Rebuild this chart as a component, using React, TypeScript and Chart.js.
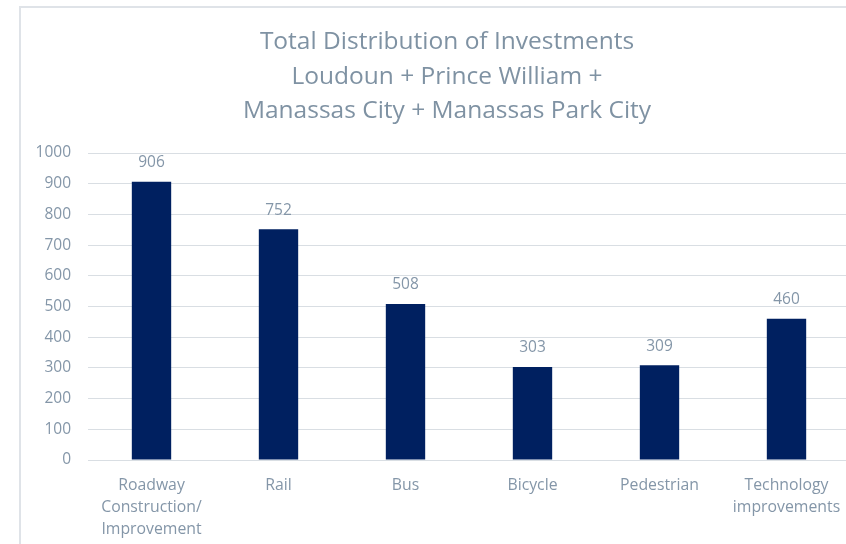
import React, { useEffect, useRef } from "react";
import { Chart, registerables } from "chart.js";

Chart.register(...registerables);

const titleLines = [
  "Total Distribution of Investments",
  "Loudoun + Prince William +",
  "Manassas City + Manassas Park City",
];
const categories: (string | string[])[] = [
  ["Roadway", "Construction/", "Improvement"],
  "Rail",
  "Bus",
  "Bicycle",
  "Pedestrian",
  ["Technology", "improvements"],
];
const values = [906, 752, 508, 303, 309, 460];
const yMin = 0;
const yMax = 1000;
const yStep = 100;

const FONT = "'Open Sans', 'Liberation Sans', sans-serif";
const TEXT = "#8496a8";
const TITLE = "#7f92a3";
const BAR = "#002060";
const GRID = "#d9dee3";

export default function App() {
  const ref = useRef<HTMLCanvasElement>(null);
  useEffect(() => {
    if (!ref.current) return;
    const titlePlugin = {
      id: "titleLines",
      afterDraw(chart: any) {
        const ctx = chart.ctx;
        ctx.save();
        ctx.fillStyle = TITLE;
        ctx.font = `24.5px ${FONT}`;
        ctx.textAlign = "center";
        ctx.textBaseline = "middle";
        const ys = [42, 77, 111];
        titleLines.forEach((t, i) => ctx.fillText(t, 447, ys[i]));
        ctx.restore();
      },
    };
    const labelPlugin = {
      id: "valueLabels",
      afterDatasetsDraw(chart: any) {
        const ctx = chart.ctx;
        const meta = chart.getDatasetMeta(0);
        ctx.save();
        ctx.fillStyle = TEXT;
        ctx.font = `15.5px ${FONT}`;
        ctx.textAlign = "center";
        ctx.textBaseline = "middle";
        meta.data.forEach((bar: any, i: number) => {
          ctx.fillText(String(values[i]), bar.x, bar.y - 19);
        });
        ctx.restore();
      },
    };
    const chart = new Chart(ref.current, {
      type: "bar",
      data: {
        labels: categories,
        datasets: [
          {
            data: values,
            backgroundColor: BAR,
            barPercentage: 0.31,
            categoryPercentage: 1,
          },
        ],
      },
      options: {
        responsive: false,
        animation: false,
        layout: { padding: { top: 153, left: 0, right: 10, bottom: 0 } },
        plugins: {
          legend: { display: false },
          title: { display: false },
          tooltip: { enabled: false },
        },
        scales: {
          x: {
            grid: { display: false },
            border: { display: false },
            ticks: {
              color: TEXT,
              font: { family: FONT, size: 15.8, lineHeight: 1.4 },
              padding: 6,
              maxRotation: 0,
              autoSkip: false,
            },
            afterFit(scale: any) {
              scale.height = 84;
            },
          },
          y: {
            min: yMin,
            max: yMax,
            grid: { color: GRID, lineWidth: 1, drawTicks: false },
            border: { display: false },
            ticks: {
              stepSize: yStep,
              color: TEXT,
              font: { family: FONT, size: 15.5 },
              padding: 17,
              callback: (v: any) => String(v),
            },
            afterFit(scale: any) {
              scale.width = 88;
            },
          },
        },
      },
      plugins: [titlePlugin, labelPlugin],
    });
    return () => chart.destroy();
  }, []);
  return (
    <div style={{ position: "fixed", left: 0, top: 0, width: 846, height: 544, overflow: "hidden", background: "#fff" }}>
      <div
        style={{
          position: "absolute",
          left: 19,
          top: 6,
          width: 900,
          height: 600,
          borderLeft: "2px solid #dfe3e8",
          borderTop: "2px solid #dfe3e8",
        }}
      />
      <canvas ref={ref} width={860} height={544} style={{ position: "absolute", left: 0, top: 0, width: 860, height: 544 }} />
    </div>
  );
}
